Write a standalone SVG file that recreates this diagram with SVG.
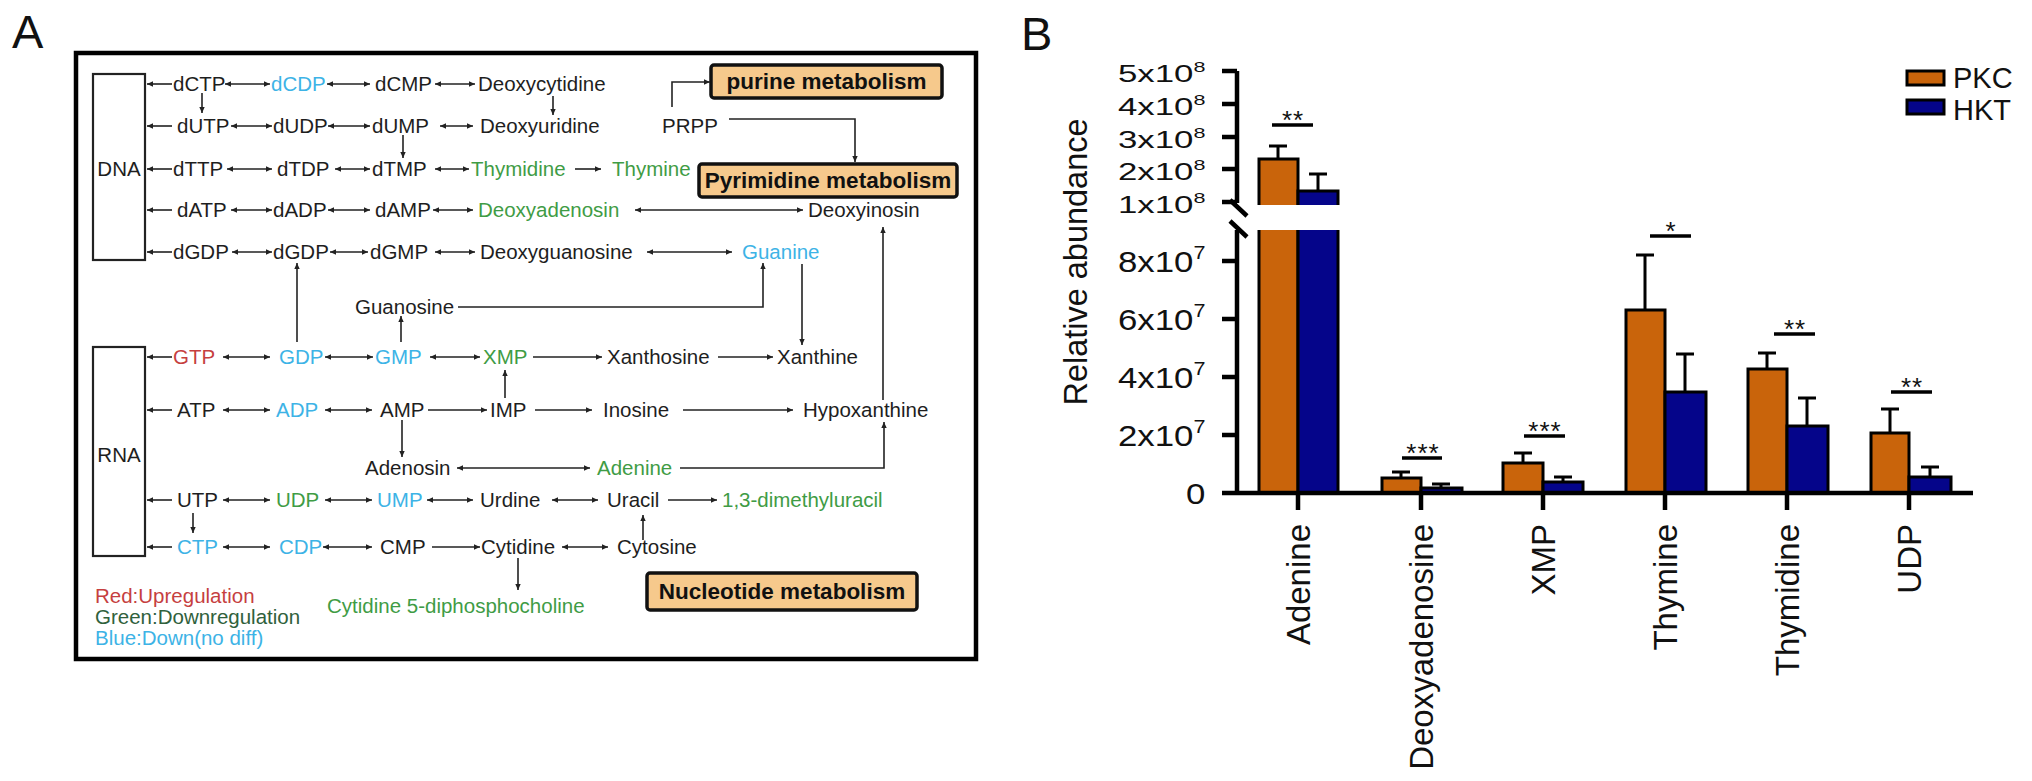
<svg xmlns="http://www.w3.org/2000/svg" width="2032" height="781" viewBox="0 0 2032 781">
<defs>
<marker id="ah" viewBox="0 0 10 10" refX="10" refY="5" markerWidth="8" markerHeight="6" markerUnits="userSpaceOnUse" orient="auto-start-reverse"><path d="M0,0.5 L10,5 L0,9.5 z" fill="#222"/></marker>
<style>
.t{font-family:"Liberation Sans",Arial,sans-serif;font-size:20.5px;fill:#1e1e1e}
.bl{fill:#3db3e6}.gr{fill:#3f9c45}.rd{fill:#c63f3f}.dg{fill:#30613c}
.bx{font-family:"Liberation Sans",Arial,sans-serif;font-weight:bold;font-size:22.5px;fill:#111;text-anchor:middle}
.mb{fill:#f6c98c;stroke:#111;stroke-width:3.5}
.ln{stroke:#222;stroke-width:1.6;fill:none}
.a1{marker-end:url(#ah)}
.a2{marker-start:url(#ah);marker-end:url(#ah)}
.ax{stroke:#000;stroke-width:4.5;fill:none}
.pk{fill:#c9640b;stroke:#000;stroke-width:3}
.hk{fill:#05058a;stroke:#000;stroke-width:3}
.eb{stroke:#000;stroke-width:3;fill:none}
.sl{stroke:#000;stroke-width:3.5}
.lab{font-family:"Liberation Sans",Arial,sans-serif;fill:#111}
.tk{font-family:"Liberation Sans",Arial,sans-serif;font-size:29px;fill:#111}
.sup{font-size:18px}
.st{font-family:"Liberation Sans",Arial,sans-serif;font-size:26px;fill:#111;text-anchor:middle;letter-spacing:1px}
.cat{font-family:"Liberation Sans",Arial,sans-serif;font-size:33px;fill:#111;text-anchor:end}
</style>
</defs>
<rect width="2032" height="781" fill="#fff"/>

<!-- Panel A -->
<text class="lab" x="12" y="48" font-size="47">A</text>
<rect x="76" y="53" width="900" height="606" fill="none" stroke="#000" stroke-width="4.5"/>

<g id="n-DNA"><rect x="93" y="74" width="52" height="186" fill="#fff" stroke="#222" stroke-width="2.2"/><text class="t" x="119" y="176" text-anchor="middle">DNA</text></g>
<g id="n-RNA"><rect x="93" y="347" width="52" height="209" fill="#fff" stroke="#222" stroke-width="2.2"/><text class="t" x="119" y="462" text-anchor="middle">RNA</text></g>

<g id="n-purine"><rect class="mb" x="711" y="65" width="231" height="33" rx="3"/><text class="bx" x="826.5" y="89">purine metabolism</text></g>
<g id="n-pyrimidine"><rect class="mb" x="699" y="164" width="258" height="33" rx="3"/><text class="bx" x="828" y="188">Pyrimidine metabolism</text></g>
<g id="n-nucleotide"><rect class="mb" x="647" y="573" width="270" height="37" rx="3"/><text class="bx" x="782" y="599">Nucleotide metabolism</text></g>

<g id="n-dCTP"><text class="t" x="173" y="91">dCTP</text></g>
<g id="n-dCDP"><text class="t bl" x="271" y="91">dCDP</text></g>
<g id="n-dCMP"><text class="t" x="375" y="91">dCMP</text></g>
<g id="n-Deoxycytidine"><text class="t" x="478" y="91">Deoxycytidine</text></g>
<g id="n-dUTP"><text class="t" x="177" y="133">dUTP</text></g>
<g id="n-dUDP"><text class="t" x="273" y="133">dUDP</text></g>
<g id="n-dUMP"><text class="t" x="372" y="133">dUMP</text></g>
<g id="n-Deoxyuridine"><text class="t" x="480" y="133">Deoxyuridine</text></g>
<g id="n-PRPP"><text class="t" x="662" y="133">PRPP</text></g>
<g id="n-dTTP"><text class="t" x="173" y="176">dTTP</text></g>
<g id="n-dTDP"><text class="t" x="277" y="176">dTDP</text></g>
<g id="n-dTMP"><text class="t" x="372" y="176">dTMP</text></g>
<g id="n-Thymidine"><text class="t gr" x="471" y="176">Thymidine</text></g>
<g id="n-Thymine"><text class="t gr" x="612" y="176">Thymine</text></g>
<g id="n-dATP"><text class="t" x="177" y="217">dATP</text></g>
<g id="n-dADP"><text class="t" x="273" y="217">dADP</text></g>
<g id="n-dAMP"><text class="t" x="375" y="217">dAMP</text></g>
<g id="n-Deoxyadenosin"><text class="t gr" x="478" y="217">Deoxyadenosin</text></g>
<g id="n-Deoxyinosin"><text class="t" x="808" y="217">Deoxyinosin</text></g>
<g id="n-dGDP-1"><text class="t" x="173" y="259">dGDP</text></g>
<g id="n-dGDP-2"><text class="t" x="273" y="259">dGDP</text></g>
<g id="n-dGMP"><text class="t" x="370" y="259">dGMP</text></g>
<g id="n-Deoxyguanosine"><text class="t" x="480" y="259">Deoxyguanosine</text></g>
<g id="n-Guanine"><text class="t bl" x="742" y="259">Guanine</text></g>
<g id="n-Guanosine"><text class="t" x="355" y="314">Guanosine</text></g>
<g id="n-GTP"><text class="t rd" x="173" y="364">GTP</text></g>
<g id="n-GDP"><text class="t bl" x="279" y="364">GDP</text></g>
<g id="n-GMP"><text class="t bl" x="375" y="364">GMP</text></g>
<g id="n-XMP"><text class="t gr" x="483" y="364">XMP</text></g>
<g id="n-Xanthosine"><text class="t" x="607" y="364">Xanthosine</text></g>
<g id="n-Xanthine"><text class="t" x="777" y="364">Xanthine</text></g>
<g id="n-ATP"><text class="t" x="177" y="417">ATP</text></g>
<g id="n-ADP"><text class="t bl" x="276" y="417">ADP</text></g>
<g id="n-AMP"><text class="t" x="380" y="417">AMP</text></g>
<g id="n-IMP"><text class="t" x="490" y="417">IMP</text></g>
<g id="n-Inosine"><text class="t" x="603" y="417">Inosine</text></g>
<g id="n-Hypoxanthine"><text class="t" x="803" y="417">Hypoxanthine</text></g>
<g id="n-Adenosin"><text class="t" x="365" y="475">Adenosin</text></g>
<g id="n-Adenine"><text class="t gr" x="597" y="475">Adenine</text></g>
<g id="n-UTP"><text class="t" x="177" y="507">UTP</text></g>
<g id="n-UDP"><text class="t gr" x="276" y="507">UDP</text></g>
<g id="n-UMP"><text class="t bl" x="377" y="507">UMP</text></g>
<g id="n-Urdine"><text class="t" x="480" y="507">Urdine</text></g>
<g id="n-Uracil"><text class="t" x="607" y="507">Uracil</text></g>
<g id="n-dimethyluracil"><text class="t gr" x="722" y="507">1,3-dimethyluracil</text></g>
<g id="n-CTP"><text class="t bl" x="177" y="554">CTP</text></g>
<g id="n-CDP"><text class="t bl" x="279" y="554">CDP</text></g>
<g id="n-CMP"><text class="t" x="380" y="554">CMP</text></g>
<g id="n-Cytidine"><text class="t" x="481" y="554">Cytidine</text></g>
<g id="n-Cytosine"><text class="t" x="617" y="554">Cytosine</text></g>
<g id="n-CDPcholine"><text class="t gr" x="327" y="613">Cytidine 5-diphosphocholine</text></g>

<g id="legend-A">
<text class="t rd" x="95" y="603">Red:Upregulation</text>
<text class="t dg" x="95" y="624">Green:Downregulation</text>
<text class="t bl" x="95" y="645">Blue:Down(no diff)</text>
</g>

<g id="connectors">
<line class="ln a1" x1="172" y1="84" x2="147" y2="84"/>
<line class="ln a2" x1="225" y1="84" x2="270" y2="84"/>
<line class="ln a2" x1="327" y1="84" x2="370" y2="84"/>
<line class="ln a2" x1="435" y1="84" x2="475" y2="84"/>
<line class="ln a1" x1="172" y1="126" x2="147" y2="126"/>
<line class="ln a2" x1="231" y1="126" x2="272" y2="126"/>
<line class="ln a2" x1="328" y1="126" x2="370" y2="126"/>
<line class="ln a2" x1="440" y1="126" x2="473" y2="126"/>
<line class="ln a1" x1="172" y1="169" x2="147" y2="169"/>
<line class="ln a2" x1="227" y1="169" x2="272" y2="169"/>
<line class="ln a2" x1="335" y1="169" x2="370" y2="169"/>
<line class="ln a2" x1="435" y1="169" x2="469" y2="169"/>
<line class="ln a1" x1="575" y1="169" x2="601" y2="169"/>
<line class="ln a1" x1="172" y1="210" x2="147" y2="210"/>
<line class="ln a2" x1="231" y1="210" x2="272" y2="210"/>
<line class="ln a2" x1="328" y1="210" x2="370" y2="210"/>
<line class="ln a2" x1="433" y1="210" x2="473" y2="210"/>
<line class="ln a2" x1="635" y1="210" x2="803" y2="210"/>
<line class="ln a1" x1="172" y1="252" x2="147" y2="252"/>
<line class="ln a2" x1="232" y1="252" x2="272" y2="252"/>
<line class="ln a2" x1="330" y1="252" x2="368" y2="252"/>
<line class="ln a2" x1="435" y1="252" x2="475" y2="252"/>
<line class="ln a2" x1="647" y1="252" x2="732" y2="252"/>
<line class="ln a1" x1="172" y1="357" x2="147" y2="357"/>
<line class="ln a2" x1="223" y1="357" x2="270" y2="357"/>
<line class="ln a2" x1="325" y1="357" x2="373" y2="357"/>
<line class="ln a2" x1="430" y1="357" x2="480" y2="357"/>
<line class="ln a1" x1="533" y1="357" x2="602" y2="357"/>
<line class="ln a1" x1="718" y1="357" x2="773" y2="357"/>
<line class="ln a1" x1="172" y1="410" x2="147" y2="410"/>
<line class="ln a2" x1="223" y1="410" x2="270" y2="410"/>
<line class="ln a2" x1="325" y1="410" x2="372" y2="410"/>
<line class="ln a1" x1="428" y1="410" x2="487" y2="410"/>
<line class="ln a1" x1="535" y1="410" x2="592" y2="410"/>
<line class="ln a1" x1="683" y1="410" x2="793" y2="410"/>
<line class="ln a2" x1="457" y1="468" x2="590" y2="468"/>
<line class="ln a1" x1="172" y1="500" x2="147" y2="500"/>
<line class="ln a2" x1="223" y1="500" x2="270" y2="500"/>
<line class="ln a2" x1="325" y1="500" x2="372" y2="500"/>
<line class="ln a2" x1="427" y1="500" x2="473" y2="500"/>
<line class="ln a2" x1="552" y1="500" x2="598" y2="500"/>
<line class="ln a1" x1="668" y1="500" x2="717" y2="500"/>
<line class="ln a1" x1="172" y1="547" x2="147" y2="547"/>
<line class="ln a2" x1="223" y1="547" x2="270" y2="547"/>
<line class="ln a2" x1="323" y1="547" x2="372" y2="547"/>
<line class="ln a1" x1="432" y1="547" x2="480" y2="547"/>
<line class="ln a2" x1="562" y1="547" x2="608" y2="547"/>
<line class="ln a1" x1="202" y1="93" x2="202" y2="113"/>
<line class="ln a1" x1="553" y1="96" x2="553" y2="115"/>
<line class="ln a1" x1="403" y1="135" x2="403" y2="158"/>
<line class="ln a1" x1="297" y1="342" x2="297" y2="263"/>
<line class="ln a1" x1="401" y1="342" x2="401" y2="316"/>
<path class="ln a1" d="M458,307 H763 V263"/>
<line class="ln a1" x1="802" y1="264" x2="802" y2="345"/>
<line class="ln a1" x1="883" y1="400" x2="883" y2="227"/>
<line class="ln a1" x1="505" y1="398" x2="505" y2="370"/>
<line class="ln a1" x1="402" y1="420" x2="402" y2="457"/>
<path class="ln a1" d="M680,468 H884 V422"/>
<line class="ln a1" x1="193" y1="513" x2="193" y2="533"/>
<line class="ln a1" x1="643" y1="540" x2="643" y2="515"/>
<line class="ln a1" x1="518" y1="558" x2="518" y2="590"/>
<path class="ln a1" d="M672,107 V82 H710"/>
<path class="ln a1" d="M729,119 H855 V162"/>
</g>

<!-- Panel B -->
<text class="lab" x="1021" y="50" font-size="47">B</text>

<g id="y-title"><text class="lab" font-size="34" text-anchor="middle" textLength="287" lengthAdjust="spacingAndGlyphs" transform="translate(1087,262) rotate(-90)">Relative abundance</text></g>

<g id="bars">
<path class="pk" d="M1259,205 V159 H1298 V205"/>
<path class="pk" d="M1259,230 V493 H1298 V230"/>
<path class="hk" d="M1298,205 V191 H1338 V205"/>
<path class="hk" d="M1298,230 V493 H1338 V230"/>
<rect class="pk" x="1382" y="478" width="39" height="15"/>
<rect class="hk" x="1421" y="488" width="41" height="5"/>
<rect class="pk" x="1503" y="463" width="40" height="30"/>
<rect class="hk" x="1543" y="482" width="40" height="11"/>
<rect class="pk" x="1626" y="310" width="39" height="183"/>
<rect class="hk" x="1665" y="392" width="41" height="101"/>
<rect class="pk" x="1748" y="369" width="39" height="124"/>
<rect class="hk" x="1787" y="426" width="41" height="67"/>
<rect class="pk" x="1871" y="433" width="38" height="60"/>
<rect class="hk" x="1909" y="477" width="42" height="16"/>
</g>

<g id="errorbars">
<path class="eb" d="M1278,159 V146 M1269,146 H1287"/>
<path class="eb" d="M1318,191 V174 M1309,174 H1327"/>
<path class="eb" d="M1401,478 V472 M1392,472 H1410"/>
<path class="eb" d="M1441,488 V484 M1432,484 H1450"/>
<path class="eb" d="M1523,463 V453 M1514,453 H1532"/>
<path class="eb" d="M1563,482 V477 M1554,477 H1572"/>
<path class="eb" d="M1645,310 V255 M1636,255 H1654"/>
<path class="eb" d="M1685,392 V354 M1676,354 H1694"/>
<path class="eb" d="M1767,369 V353 M1758,353 H1776"/>
<path class="eb" d="M1807,426 V398 M1798,398 H1816"/>
<path class="eb" d="M1890,433 V409 M1881,409 H1899"/>
<path class="eb" d="M1930,477 V467 M1921,467 H1939"/>
</g>

<g id="significance">
<line class="sl" x1="1272" y1="125" x2="1313" y2="125"/><text class="st" x="1293" y="129">**</text>
<line class="sl" x1="1402" y1="458" x2="1442" y2="458"/><text class="st" x="1423" y="462">***</text>
<line class="sl" x1="1524" y1="436" x2="1565" y2="436"/><text class="st" x="1545" y="440">***</text>
<line class="sl" x1="1650" y1="236" x2="1691" y2="236"/><text class="st" x="1671" y="240">*</text>
<line class="sl" x1="1774" y1="334" x2="1815" y2="334"/><text class="st" x="1795" y="338">**</text>
<line class="sl" x1="1891" y1="392" x2="1932" y2="392"/><text class="st" x="1912" y="396">**</text>
</g>

<g id="axes">
<path class="ax" d="M1237,71 V203"/>
<path class="ax" d="M1237,230 V495"/>
<path class="ax" d="M1222,71 H1237 M1222,104 H1237 M1222,137 H1237 M1222,169 H1237 M1222,202 H1237"/>
<path class="ax" d="M1222,261 H1237 M1222,319 H1237 M1222,377 H1237 M1222,435 H1237"/>
<path class="ax" d="M1230,200 L1247,216 M1230,221 L1247,237"/>
<path class="ax" d="M1222,493 H1973"/>
<path class="ax" d="M1298,493 V510 M1421,493 V510 M1543,493 V510 M1665,493 V510 M1787,493 V510 M1909,493 V510"/>
</g>

<g id="y-ticklabels">
<g transform="translate(1118,82) scale(1.2,0.8)"><text class="tk">5x10<tspan class="sup" dy="-13">8</tspan></text></g>
<g transform="translate(1118,115) scale(1.2,0.8)"><text class="tk">4x10<tspan class="sup" dy="-13">8</tspan></text></g>
<g transform="translate(1118,148) scale(1.2,0.8)"><text class="tk">3x10<tspan class="sup" dy="-13">8</tspan></text></g>
<g transform="translate(1118,180) scale(1.2,0.8)"><text class="tk">2x10<tspan class="sup" dy="-13">8</tspan></text></g>
<g transform="translate(1118,213) scale(1.2,0.8)"><text class="tk">1x10<tspan class="sup" dy="-13">8</tspan></text></g>
<g transform="translate(1118,272) scale(1.2,1)"><text class="tk">8x10<tspan class="sup" dy="-13">7</tspan></text></g>
<g transform="translate(1118,330) scale(1.2,1)"><text class="tk">6x10<tspan class="sup" dy="-13">7</tspan></text></g>
<g transform="translate(1118,388) scale(1.2,1)"><text class="tk">4x10<tspan class="sup" dy="-13">7</tspan></text></g>
<g transform="translate(1118,446) scale(1.2,1)"><text class="tk">2x10<tspan class="sup" dy="-13">7</tspan></text></g>
<g transform="translate(1186,504) scale(1.2,1)"><text class="tk">0</text></g>
</g>

<g id="x-labels">
<text class="cat" transform="translate(1310,524) rotate(-90)">Adenine</text>
<text class="cat" transform="translate(1433,524) rotate(-90)">Deoxyadenosine</text>
<text class="cat" transform="translate(1555,524) rotate(-90)">XMP</text>
<text class="cat" transform="translate(1677,524) rotate(-90)">Thymine</text>
<text class="cat" transform="translate(1799,524) rotate(-90)">Thymidine</text>
<text class="cat" transform="translate(1921,524) rotate(-90)">UDP</text>
</g>

<g id="legend-B">
<rect class="pk" x="1907" y="71" width="37" height="14"/>
<rect class="hk" x="1907" y="100" width="37" height="14"/>
<text class="lab" x="1953" y="88" font-size="29">PKC</text>
<text class="lab" x="1953" y="120" font-size="29">HKT</text>
</g>
</svg>
